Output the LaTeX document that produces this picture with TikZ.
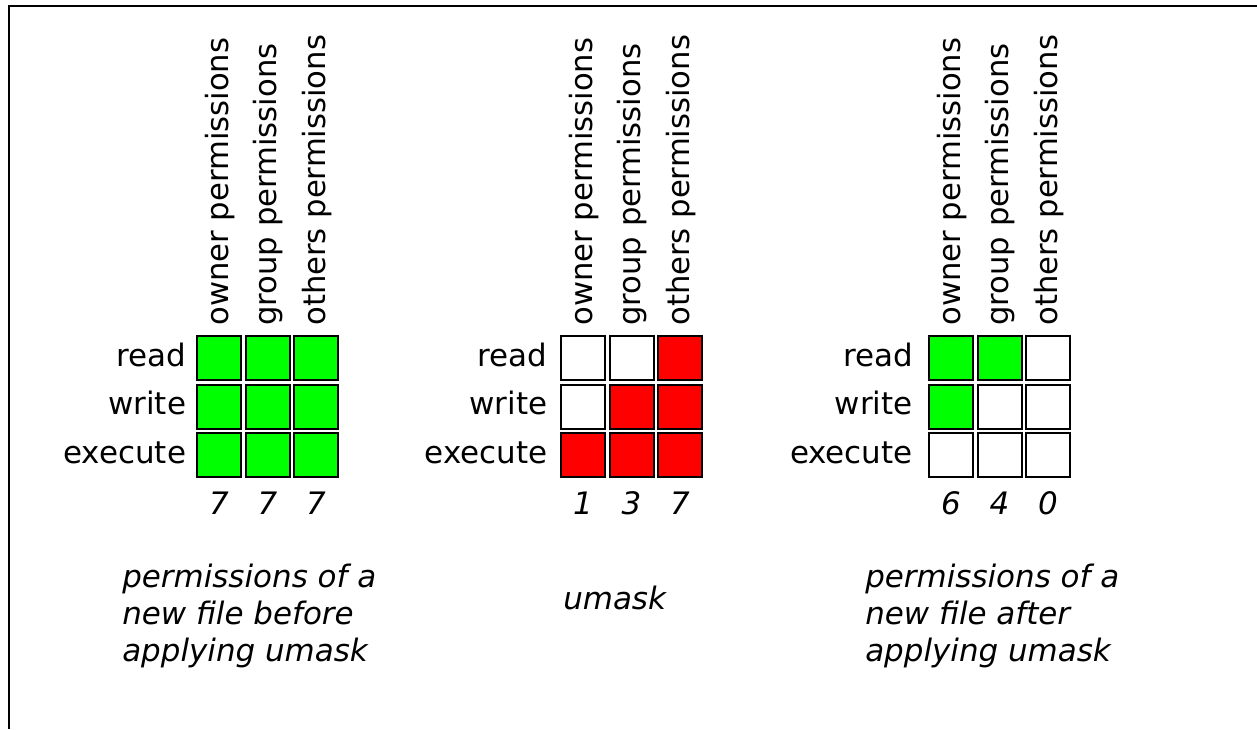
\documentclass[tikz,border=0pt]{standalone}
\usepackage{fontspec}
\setmainfont{DejaVu Sans}
\usetikzlibrary{positioning}
\definecolor{granted}{RGB}{0,255,0}
\definecolor{masked}{RGB}{255,0,0}
\tikzset{
  cell/.style={draw, line width=1.5pt, minimum size=33pt, inner sep=0pt, outer sep=0pt, fill=white},
  rowlab/.style={inner sep=0pt, anchor=base east, font=\fontsize{23.2}{28}\selectfont},
  collab/.style={rotate=90, anchor=west, inner sep=0pt, font=\fontsize{23}{28}\selectfont},
  octal/.style={inner sep=0pt, font=\fontsize{23.2}{28}\selectfont\itshape},
  caption/.style={align=left, inner sep=0pt, font=\fontsize{23.2}{27.75}\selectfont\itshape}
}
\begin{document}
\begin{tikzpicture}[x=0.75pt,y=0.75pt,yscale=-1,xscale=1]
\useasboundingbox (0,0) rectangle (1257,729);

%Straight Lines: frame
\draw [line width=1.5pt] (9,729) -- (9,6) -- (1257,6) ;

% ---- before umask ----
%Shape: Square
\node [cell, fill=granted] (b11) at (219,358) {};
\node [cell, fill=granted] (b12) at (267.5,358) {};
\node [cell, fill=granted] (b13) at (316,358) {};
\node [cell, fill=granted] (b21) at (219,406.5) {};
\node [cell, fill=granted] (b22) at (267.5,406.5) {};
\node [cell, fill=granted] (b23) at (316,406.5) {};
\node [cell, fill=granted] (b31) at (219,455) {};
\node [cell, fill=granted] (b32) at (267.5,455) {};
\node [cell, fill=granted] (b33) at (316,455) {};
% Text Node
\node [rowlab] (bread) at ([xshift=-8pt,yshift=6pt]b11.west) {read};
\node [rowlab] (bwrite) at ([xshift=-8pt,yshift=6pt]b21.west) {write};
\node [rowlab] (bexec) at ([xshift=-8pt,yshift=6pt]b31.west) {execute};
\node [collab] (bowner) at (220,326) {owner permissions};
\node [collab] (bgroup) at (268.5,326) {group permissions};
\node [collab] (bothers) at (317,326) {others permissions};
\node [octal] (bo1) at (219,503) {7};
\node [octal] (bo2) at (267.5,503) {7};
\node [octal] (bo3) at (316,503) {7};
\node [caption, anchor=north west] (bcap) at (122,564) {permissions of a\\new file before\\applying umask};

% ---- umask ----
%Shape: Square
\node [cell] (m11) at (583,358) {};
\node [cell] (m12) at (631.5,358) {};
\node [cell, fill=masked] (m13) at (680,358) {};
\node [cell] (m21) at (583,406.5) {};
\node [cell, fill=masked] (m22) at (631.5,406.5) {};
\node [cell, fill=masked] (m23) at (680,406.5) {};
\node [cell, fill=masked] (m31) at (583,455) {};
\node [cell, fill=masked] (m32) at (631.5,455) {};
\node [cell, fill=masked] (m33) at (680,455) {};
% Text Node
\node [rowlab] (mread) at ([xshift=-10pt,yshift=6pt]m11.west) {read};
\node [rowlab] (mwrite) at ([xshift=-10pt,yshift=6pt]m21.west) {write};
\node [rowlab] (mexec) at ([xshift=-10pt,yshift=6pt]m31.west) {execute};
\node [collab] (mowner) at (584,326) {owner permissions};
\node [collab] (mgroup) at (632.5,326) {group permissions};
\node [collab] (mothers) at (681,326) {others permissions};
\node [octal] (mo1) at (583,503) {1};
\node [octal] (mo2) at (631.5,503) {3};
\node [octal] (mo3) at (680,503) {7};
\node [caption, anchor=base west] (mcap) at (563,609) {umask};

% ---- after umask ----
%Shape: Square
\node [cell, fill=granted] (a11) at (951,358) {};
\node [cell, fill=granted] (a12) at (999.5,358) {};
\node [cell] (a13) at (1048,358) {};
\node [cell, fill=granted] (a21) at (951,406.5) {};
\node [cell] (a22) at (999.5,406.5) {};
\node [cell] (a23) at (1048,406.5) {};
\node [cell] (a31) at (951,455) {};
\node [cell] (a32) at (999.5,455) {};
\node [cell] (a33) at (1048,455) {};
% Text Node
\node [rowlab] (aread) at ([xshift=-12pt,yshift=6pt]a11.west) {read};
\node [rowlab] (awrite) at ([xshift=-12pt,yshift=6pt]a21.west) {write};
\node [rowlab] (aexec) at ([xshift=-12pt,yshift=6pt]a31.west) {execute};
\node [collab] (aowner) at (952,326) {owner permissions};
\node [collab] (agroup) at (1000.5,326) {group permissions};
\node [collab] (aothers) at (1049,326) {others permissions};
\node [octal] (ao1) at (951,503) {6};
\node [octal] (ao2) at (999.5,503) {4};
\node [octal] (ao3) at (1048,503) {0};
\node [caption, anchor=north west] (acap) at (865,564) {permissions of a\\new file after\\applying umask};

\end{tikzpicture}
\end{document}
